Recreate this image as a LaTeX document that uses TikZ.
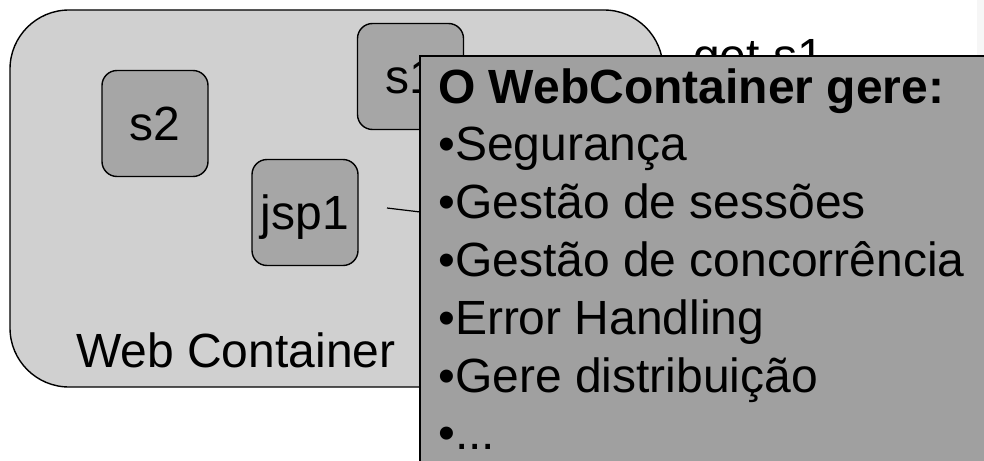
\documentclass[tikz,border=0pt]{standalone}
\usepackage{fontspec}
\setmainfont{Liberation Sans}
\definecolor{containerfill}{RGB}{208,208,208}
\definecolor{compfill}{RGB}{166,166,166}
\definecolor{notefill}{RGB}{160,160,160}
\definecolor{edgestrip}{RGB}{246,246,246}
\begin{document}
\begin{tikzpicture}[x=1pt,y=-1pt,
  bigtext/.style={font=\fontsize{48}{57.6}\selectfont, inner sep=0pt, anchor=base west},
  compbox/.style={draw=black, line width=1.4pt, fill=compfill, rounded corners=15pt,
    minimum width=106pt, minimum height=106pt, inner sep=0pt, text depth=0pt,
    font=\fontsize{48}{57.6}\selectfont},
  link/.style={draw=black, line width=1.2pt}]
\useasboundingbox (0,0) rectangle (984,460);
\clip (0,0) rectangle (984,460);
% faint strip along the right margin
\fill[edgestrip] (977,0) rectangle (984,56);
% the web container
\draw[line width=1.4pt, fill=containerfill, rounded corners=59pt]
  (10,10) rectangle (663,387);
\node[bigtext] (wc) at (76,367) {Web Container};
% components
\node[compbox] (s2) at (155,123.5) {s2};
\node[compbox] (s1) at (410.5,76.5) {s1};
\node[compbox] (jsp1) at (305,212.5) {jsp1};
% request from jsp1
\coordinate (reqA) at (387,208);
\coordinate (reqB) at (470,218);
\draw[link] (reqA) -- (reqB);
\node[bigtext] (get) at (693,72) {get s1};
% note about what the container manages
\draw[line width=2pt, fill=notefill] (420,56) rectangle (1000,480);
\node[bigtext, font=\fontsize{48}{57.6}\selectfont\bfseries] (l1) at (438,103.0) {O WebContainer gere:};
\node[bigtext] (l2) at (438,160.8) {•Segurança};
\node[bigtext] (l3) at (438,218.6) {•Gestão de sessões};
\node[bigtext] (l4) at (438,276.4) {•Gestão de concorrência};
\node[bigtext] (l5) at (438,334.2) {•Error Handling};
\node[bigtext] (l6) at (438,392.0) {•Gere distribuição};
\node[bigtext] (l7) at (438,449.8) {•...};
\end{tikzpicture}
\end{document}
